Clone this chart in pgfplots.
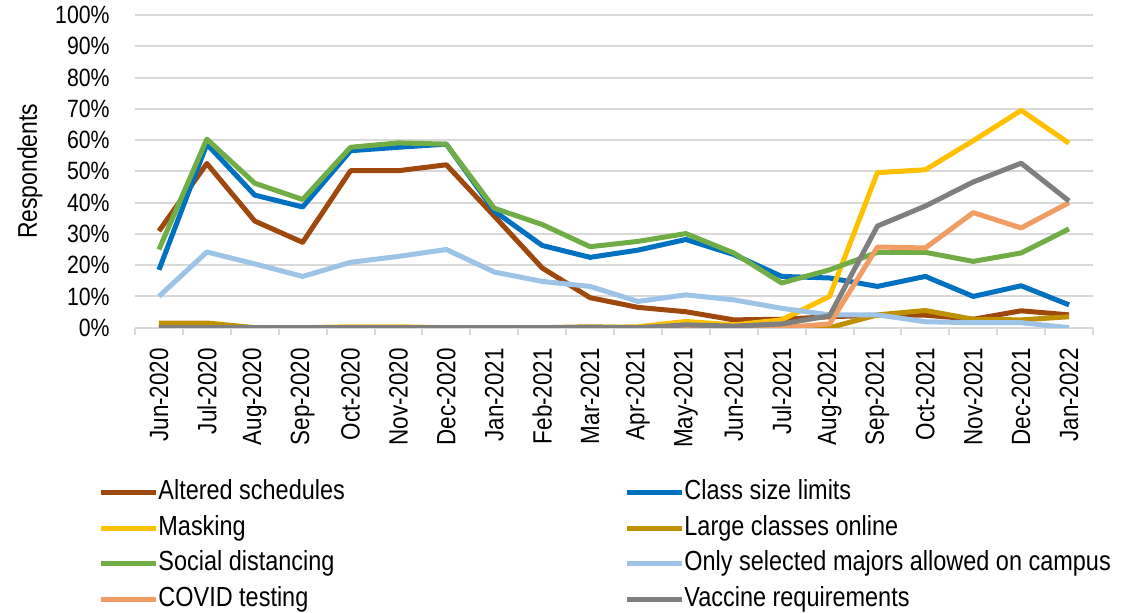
\documentclass[border=0pt]{standalone}
\usepackage{fontspec}
\setmainfont{Liberation Sans}[FakeStretch=0.85]
\usepackage{pgfplots}
\usepackage{pgfplotstable}
\pgfplotsset{compat=1.18}
\definecolor{cAlt}{HTML}{9E480E}
\definecolor{cCls}{HTML}{0070C0}
\definecolor{cMask}{HTML}{FFC000}
\definecolor{cLarge}{HTML}{BF9000}
\definecolor{cSoc}{HTML}{70AD47}
\definecolor{cOnly}{HTML}{9DC3E6}
\definecolor{cCovid}{HTML}{F19C65}
\definecolor{cVac}{HTML}{7F7F7F}
\definecolor{gridgray}{HTML}{D9D9D9}
\pgfplotstableread{
x alt cls mask large soc only covid vac
0 30.9 18.5 0 1.5 25.0 10.0 0 0
1 52.5 58.7 0 1.5 60.3 24.2 0 0
2 34.1 42.4 0 0 46.2 20.4 0 0
3 27.3 38.6 0 0 41.0 16.4 0 0
4 50.2 56.6 0.3 0 57.7 20.9 0 0
5 50.2 57.7 0.3 0 59.1 22.8 0 0
6 52.1 58.7 0 0 58.7 25.0 0 0
7 35.7 37.3 0 0 38.2 17.8 0 0
8 19.1 26.3 0 0 33.0 14.8 0 0
9 9.6 22.5 0 0.3 25.9 13.2 0 0
10 6.5 24.8 0.3 0 27.6 8.4 0 0
11 5.1 28.2 2.0 0.5 30.1 10.5 0 0.9
12 2.5 23.4 0.9 0 23.9 8.9 0 0.5
13 2.7 16.4 2.5 0 14.3 6.2 0 1.2
14 3.5 15.9 10.0 0 18.5 4.1 1.2 3.8
15 4.0 13.2 49.6 4.1 24.1 4.1 25.8 32.5
16 4.0 16.4 50.5 5.5 24.1 1.9 25.5 38.9
17 2.7 10.0 59.8 2.7 21.2 1.6 36.8 46.6
18 5.4 13.4 69.5 2.5 23.9 1.6 31.9 52.6
19 4.1 7.3 59.0 3.5 31.6 0.0 40.0 40.5
}\data
\begin{document}
\begin{tikzpicture}
\useasboundingbox (-67.5pt,-142.65pt) rectangle (502.5pt,163.85pt);
\begin{axis}[
  at={(0,0)}, anchor=south west,
  scale only axis, width=479pt, height=156.35pt,
  xmin=-0.5, xmax=19.5, ymin=0, ymax=100,
  xtick={0,...,19},
  xticklabels={Jun-2020,Jul-2020,Aug-2020,Sep-2020,Oct-2020,Nov-2020,Dec-2020,Jan-2021,Feb-2021,Mar-2021,Apr-2021,May-2021,Jun-2021,Jul-2021,Aug-2021,Sep-2021,Oct-2021,Nov-2021,Dec-2021,Jan-2022},
  minor xtick={-0.5,0.5,...,19.5},
  ytick={0,10,...,100},
  yticklabels={0\%,10\%,20\%,30\%,40\%,50\%,60\%,70\%,80\%,90\%,100\%},
  ymajorgrids, grid style={draw=gridgray, line width=1pt},
  axis x line*=bottom, axis y line*=left,
  x axis line style={draw=gridgray, line width=1pt, -},
  y axis line style={draw=none},
  major tick length=0pt,
  minor tick length=3.5pt,
  tick align=outside,
  minor tick style={draw=gridgray, line width=1pt},
  xticklabel style={rotate=90, anchor=east, inner sep=0pt, font=\fontsize{13.2}{15}\selectfont},
  yticklabel style={anchor=east, inner sep=0pt, font=\fontsize{12.5}{15}\selectfont},
  xticklabel shift=10pt,
  yticklabel shift=12.5pt,
  ylabel={Respondents},
  every axis y label/.style={at={(axis description cs:-0.1096,0.5)}, rotate=90, anchor=center, font=\fontsize{13.5}{15}\selectfont},
  legend columns=2,
  legend cell align=left,
  legend style={at={(axis description cs:-0.0386,-0.478)}, anchor=north west, draw=none, fill=none, inner sep=0pt, row sep=2.75pt, column sep=0pt, font=\fontsize{13.8}{15}\selectfont, nodes={inner ysep=1pt, inner xsep=0pt, text height=10pt, text depth=3pt}},
  legend image code/.code={\path (0pt,0pt) -- (27.5pt,0pt); \draw[#1, line cap=round] (1.25pt,0pt) -- (26.25pt,0pt);},
  lin/.style={line width=2.5pt, line join=round, mark=none},
]
\addplot[lin, cAlt] table[x=x,y=alt] {\data};
\addlegendentry{\makebox[233pt][l]{Altered schedules}}
\addplot[lin, cCls] table[x=x,y=cls] {\data};
\addlegendentry{Class size limits}
\addplot[lin, cMask] table[x=x,y=mask] {\data};
\addlegendentry{\makebox[233pt][l]{Masking}}
\addplot[lin, cLarge] table[x=x,y=large] {\data};
\addlegendentry{Large classes online}
\addplot[lin, cSoc] table[x=x,y=soc] {\data};
\addlegendentry{\makebox[233pt][l]{Social distancing}}
\addplot[lin, cOnly] table[x=x,y=only] {\data};
\addlegendentry{Only selected majors allowed on campus}
\addplot[lin, cCovid] table[x=x,y=covid] {\data};
\addlegendentry{\makebox[233pt][l]{COVID testing}}
\addplot[lin, cVac] table[x=x,y=vac] {\data};
\addlegendentry{Vaccine requirements}
\end{axis}
\end{tikzpicture}
\end{document}
